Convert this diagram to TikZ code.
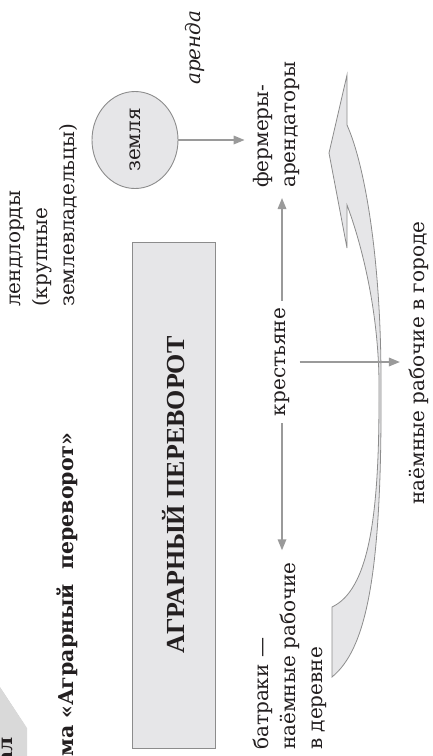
\documentclass[tikz,border=0pt]{standalone}
\usepackage{fontspec}
\setmainfont{DejaVu Serif}
\newfontfamily\boxfont{Liberation Serif}
\usetikzlibrary{arrows.meta,shapes.geometric}
\definecolor{arrgray}{HTML}{9A9A9A}
\definecolor{edgegray}{HTML}{8C8C8C}
\definecolor{fillgray}{HTML}{E6E6E8}
\definecolor{txtcol}{HTML}{231F20}
\tikzset{
  txt/.style={font=\fontsize{20}{27}\selectfont, text=txtcol, inner sep=0pt, align=left, rotate=90},
  arr/.style={draw=arrgray, line width=1.7pt, -{Triangle[length=11pt,width=8.5pt]}},
  graybox/.style={draw=edgegray, line width=0.9pt, fill=fillgray, rotate=90, inner sep=0pt},
  bigarrow/.style={draw=edgegray, line width=0.8pt, fill=fillgray},
}
\begin{document}
\begin{tikzpicture}[x=1pt,y=-1pt]
\useasboundingbox (0,0) rectangle (432,756);
\clip (0,0) rectangle (432,756);
% tab at the corner
\fill[gray!55] (-14,666) -- (24,724) -- (24,760) -- (-14,760) -- cycle;
\fill[gray!30] (-10,672) -- (27,728) -- (27,760) -- (-10,760) -- cycle;
\node[txt, font=\fontsize{20}{27}\selectfont\bfseries, anchor=east] (tab) at (7,737) {ал};
% title
\node[txt, font=\fontsize{20.5}{27}\selectfont\bfseries, anchor=west] (title) at (67,757) {ма «Аграрный\hspace{0.7em}переворот»};
% landlords
\node[txt, anchor=west] (lend) at (44,307) {лендлорды\\(крупные\\землевладельцы)};
% land
\node[graybox, ellipse, minimum width=97pt, minimum height=86pt, font=\fontsize{20}{27}\selectfont, text=txtcol] (zem) at (135,140) {земля};
% rent
\node[txt, font=\fontsize{20}{27}\selectfont\itshape, anchor=west] (arenda) at (195,85) {аренда};
% main box
\node[graybox, minimum width=506pt, minimum height=83pt, font=\boxfont\fontsize{26}{30}\selectfont\bfseries, text=txtcol] (main) at (173.5,495) {АГРАРНЫЙ ПЕРЕВОРОТ};
% farmers
\node[txt, anchor=west] (ferm) at (276,188) {фермеры-\\арендаторы};
% peasants
\node[txt, anchor=center] (kr) at (282,362) {крестьяне};
% batraki
\node[txt, anchor=west] (batr) at (290,750) {батраки —\\наёмные рабочие\\в деревне};
% city workers
\node[txt, anchor=center] (gorod) at (419,363) {наёмные рабочие в городе};
% big curved arrow
\draw[bigarrow] (332,677) .. controls (365,650) and (382,580) .. (381,390)
  -- (381,380) .. controls (381,260) and (365,165) .. (347,125)
  -- (347,75) -- (329,153) -- (347,248) -- (347,205)
  .. controls (362,245) and (378,310) .. (379,380)
  -- (379,400) .. controls (379,520) and (368,590) .. (332,607) -- cycle;
% connectors
\draw[arr, shorten >=8pt] (zem.south) -- (zem.south -| ferm.north);
\draw[arr, shorten <=7pt, shorten >=10pt] (kr.east) -- (kr.east |- ferm.west);
\draw[arr, shorten <=7pt, shorten >=12pt] (kr.west) -- (kr.west |- batr.east);
\draw[arr, shorten <=10pt, shorten >=9pt] (kr.south) -- (kr.south -| gorod.north);
\end{tikzpicture}
\end{document}
